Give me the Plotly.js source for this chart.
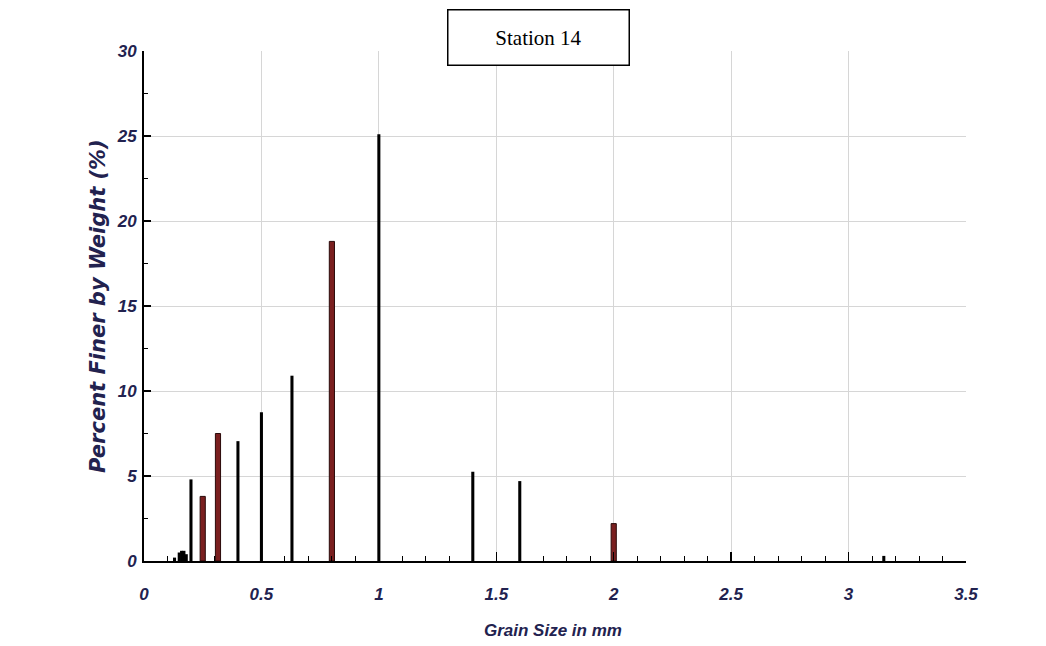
<!DOCTYPE html>
<html>
<head>
<meta charset="utf-8">
<script src="https://cdn.plot.ly/plotly-3.0.1.min.js"></script>
<style>html,body{margin:0;padding:0;background:#fff;}#chart{width:1046px;height:646px;}</style>
</head>
<body>
<div id="chart"></div>
<script>
// Grain size (mm) and percent by weight
var blackSizes  = [0.13, 0.15, 0.16, 0.17, 0.18, 0.2, 0.4, 0.5, 0.63, 1.0, 1.4, 1.6, 3.15];
var blackValues = [0.2, 0.5, 0.6, 0.6, 0.4, 4.8, 7.05, 8.75, 10.9, 25.1, 5.25, 4.7, 0.3];
var redSizes    = [0.25, 0.315, 0.8, 2.0];
var redValues   = [3.8, 7.5, 18.8, 2.2];
var xTickVals   = [0, 0.5, 1, 1.5, 2, 2.5, 3, 3.5];
var xTickText   = ['0', '0.5', '1', '1.5', '2', '2.5', '3', '3.5'];
var yTickVals   = [0, 5, 10, 15, 20, 25, 30];
var yTickText   = ['0', '5', '10', '15', '20', '25', '30'];

var navy = '#22224f';
var sans = 'Liberation Sans, Arial, sans-serif';
var tickFont = {family: sans, size: 17, color: navy, weight: 'bold', style: 'italic'};

var traces = [
  {type: 'bar', x: blackSizes, y: blackValues, width: 0.013,
   marker: {color: '#000000', line: {width: 0}}, hoverinfo: 'x+y'},
  {type: 'bar', x: redSizes, y: redValues, width: 0.022,
   marker: {color: '#7a1f1f', line: {color: '#2a0a0a', width: 1}}, hoverinfo: 'x+y'}
];

var layout = {
  width: 1046, height: 646,
  margin: {l: 144, r: 80, t: 51, b: 85},
  paper_bgcolor: '#ffffff', plot_bgcolor: '#ffffff',
  showlegend: false,
  barmode: 'overlay',
  xaxis: {
    range: [0, 3.5], tickvals: xTickVals, ticktext: xTickText,
    showgrid: true, gridcolor: '#d6d6d6', gridwidth: 1,
    zeroline: false, showline: true, linecolor: '#000', linewidth: 2,
    ticks: 'inside', ticklen: 9, tickwidth: 1.5, tickcolor: '#000',
    minor: {dtick: 0.1, ticks: 'inside', ticklen: 5, tickwidth: 1, tickcolor: '#000', showgrid: false},
    tickfont: tickFont, ticklabelstandoff: 17
  },
  yaxis: {
    range: [0, 30], tickvals: yTickVals, ticktext: yTickText,
    showgrid: true, gridcolor: '#d6d6d6', gridwidth: 1,
    zeroline: false, showline: true, linecolor: '#000', linewidth: 2,
    ticks: 'inside', ticklen: 7, tickwidth: 1.5, tickcolor: '#000',
    minor: {dtick: 2.5, ticks: 'inside', ticklen: 4, tickwidth: 1, tickcolor: '#000', showgrid: false},
    tickfont: tickFont, ticklabelstandoff: 2
  },
  annotations: [
    {xref: 'paper', yref: 'paper', x: 0.497, y: -0.137, xanchor: 'center', yanchor: 'middle', showarrow: false,
     text: 'Grain Size in mm',
     font: {family: sans, size: 17, color: navy, weight: 'bold', style: 'italic'}},
    {xref: 'paper', yref: 'paper', x: -0.056, y: 0.5, xanchor: 'center', yanchor: 'middle', showarrow: false,
     text: 'Percent Finer by Weight (%)', textangle: -90,
     font: {family: 'DejaVu Sans, Verdana, sans-serif', size: 21, color: navy, weight: 'bold', style: 'italic'}},
    {xref: 'paper', yref: 'paper', x: 0.4805, y: 1.027, xanchor: 'center', yanchor: 'middle', showarrow: false,
     text: 'Station 14', width: 180, height: 54, align: 'center', valign: 'middle',
     bgcolor: '#ffffff', bordercolor: '#000000', borderwidth: 1.5, borderpad: 0,
     font: {family: 'Liberation Serif, Times New Roman, serif', size: 21, color: '#000'}}
  ]
};

Plotly.newPlot('chart', traces, layout, {displayModeBar: false, staticPlot: true});
</script>
</body>
</html>
